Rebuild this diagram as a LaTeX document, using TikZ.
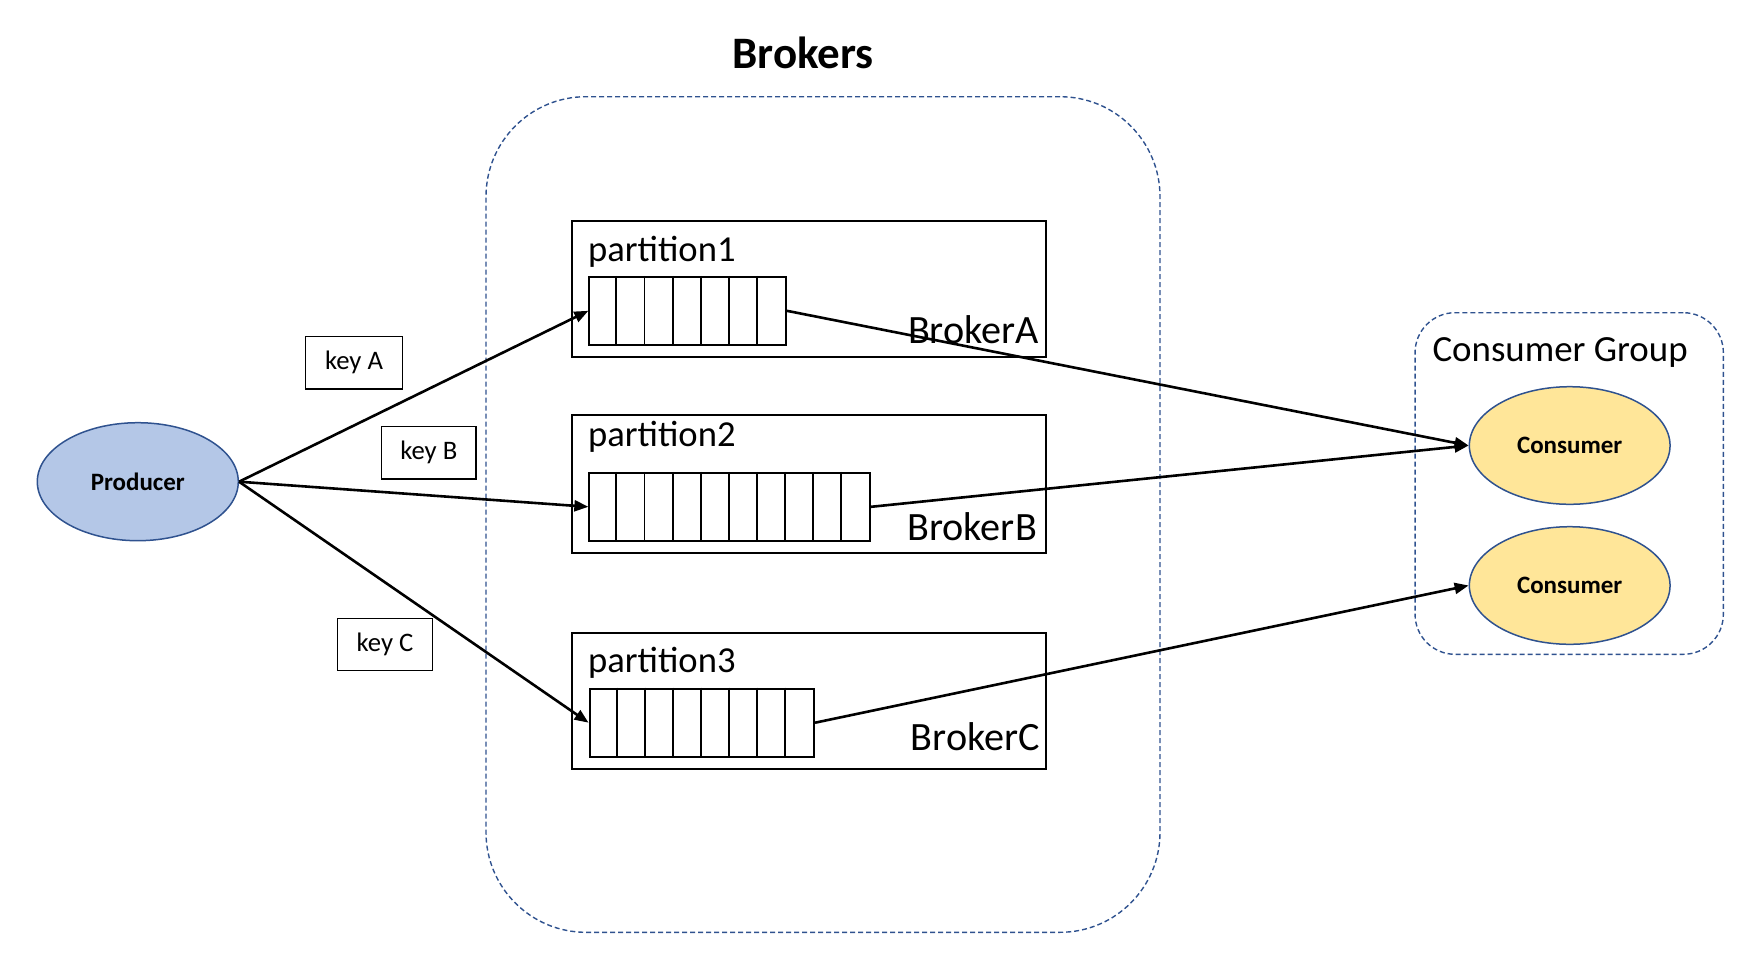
\documentclass[tikz,border=0pt]{standalone}
\usepackage{fontspec}
\setmainfont{Carlito}
\usetikzlibrary{shapes.geometric,arrows.meta,calc}
\definecolor{dashblue}{RGB}{47,82,143}
\definecolor{prodfill}{RGB}{180,199,231}
\definecolor{consfill}{RGB}{255,230,153}
\begin{document}
\begin{tikzpicture}[x=1pt,y=-1pt,
  groupbox/.style={draw=dashblue, line width=1.4pt, dash pattern=on 5pt off 3pt, inner sep=0pt},
  partbox/.style={draw=black, line width=2pt, inner sep=0pt, minimum width=474.5pt},
  queuebox/.style={draw=black, line width=2pt, inner sep=0pt, minimum height=68pt},
  keybox/.style={draw=black, line width=1.5pt, inner sep=0pt, minimum height=52.3pt, font=\fontsize{26.7}{30}\selectfont},
  actor/.style={ellipse, draw=dashblue, line width=1.5pt, inner sep=0pt, minimum width=201pt, minimum height=118pt, font=\bfseries\fontsize{25}{28}\selectfont},
  conn/.style={line width=2.6pt, -{Triangle[length=14pt,width=11pt]}},
  cell/.style={line width=1.9pt},
  lbl/.style={inner sep=0pt},
  partlbl/.style={inner sep=0pt, anchor=base west, font=\fontsize{36.6}{40}\selectfont},
  brklbl/.style={inner sep=0pt, anchor=base east, font=\fontsize{40.2}{44}\selectfont},
]
\useasboundingbox (0,0) rectangle (1762,972);

% containers
\node[groupbox, rounded corners=100pt, minimum width=674pt, minimum height=835.6pt] (brokers) at (823,514.5) {};
\node[lbl, anchor=base, font=\bfseries\fontsize{45}{50}\selectfont] (title) at (803,68.3) {Brokers};
\node[groupbox, rounded corners=40pt, minimum width=308.3pt, minimum height=341.6pt] (group) at (1569.2,483.5) {};
\node[lbl, anchor=base west, font=\fontsize{36.9}{40}\selectfont] (grouplbl) at (1432.3,361.7) {Consumer Group};

% partitions
\node[partbox, minimum height=136pt] (p1) at (808.75,288.7) {};
\node[partbox, minimum height=137.7pt] (p2) at (808.75,483.9) {};
\node[partbox, minimum height=136.3pt] (p3) at (808.75,700.9) {};
\node[partlbl] (p1lbl) at (588,261.7) {partition1};
\node[partlbl] (p2lbl) at (588,446.7) {partition2};
\node[partlbl] (p3lbl) at (588,672.7) {partition3};
\node[brklbl] (bA) at (1039,343) {BrokerA};
\node[brklbl] (bB) at (1037,540) {BrokerB};
\node[brklbl] (bC) at (1040,750) {BrokerC};

% queues
\node[queuebox, minimum width=196.5pt] (q1) at (687.6,310.8) {};
\node[queuebox, minimum width=280.7pt] (q2) at (729.7,506.8) {};
\node[queuebox, minimum width=224.5pt] (q3) at (701.8,722.7) {};
\foreach \k in {1,...,6} \draw[cell] ($(q1.north west)+(\k*28.07,0)$) -- ($(q1.south west)+(\k*28.07,0)$);
\foreach \k in {1,...,9} \draw[cell] ($(q2.north west)+(\k*28.07,0)$) -- ($(q2.south west)+(\k*28.07,0)$);
\foreach \k in {1,...,7} \draw[cell] ($(q3.north west)+(\k*28.07,0)$) -- ($(q3.south west)+(\k*28.07,0)$);

% key labels
\node[keybox, minimum width=96.7pt] (kA) at (354,362.8) {key A};
\node[keybox, minimum width=94.3pt] (kB) at (428.8,452.8) {key B};
\node[keybox, minimum width=94.7pt] (kC) at (385,644.5) {key C};

% actors
\node[actor, fill=prodfill] (prod) at (137.8,481.7) {Producer};
\node[actor, fill=consfill, minimum width=200.7pt, minimum height=117.6pt] (c1) at (1569.7,445.5) {Consumer};
\node[actor, fill=consfill, minimum width=200.7pt, minimum height=117.6pt] (c2) at (1569.7,585.5) {Consumer};

% connectors
\draw[conn] (prod.east) -- (q1.west);
\draw[conn] (prod.east) -- (q2.west);
\draw[conn] (prod.east) -- (q3.west);
\draw[conn] (q1.east) -- (c1.west);
\draw[conn] (q2.east) -- (c1.west);
\draw[conn] (q3.east) -- (c2.west);
\end{tikzpicture}
\end{document}
